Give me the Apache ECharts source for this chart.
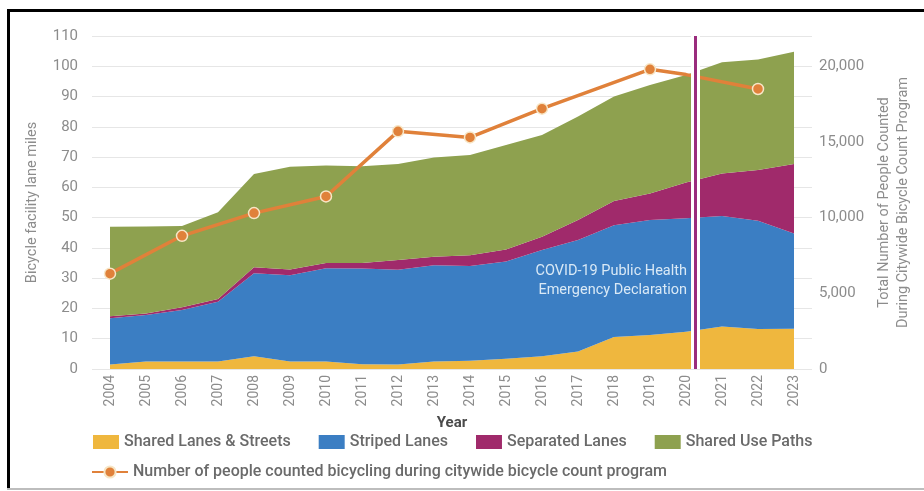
<!DOCTYPE html>
<html>
<head>
<meta charset="utf-8">
<script src="https://cdn.jsdelivr.net/npm/echarts@6/dist/echarts.min.js"></script>
<style>
  html, body { margin: 0; padding: 0; background: #fff; }
  #chart { width: 924px; height: 491px; }
</style>
</head>
<body>
<div id="chart"></div>
<script>
// Bicycle facility lane miles by type (stacked), plus citywide bicycle counts
const years = ['2004','2005','2006','2007','2008','2009','2010','2011','2012','2013',
               '2014','2015','2016','2017','2018','2019','2020','2021','2022','2023'];

const sharedLanes    = [1.5, 2.5, 2.5, 2.5, 4.2, 2.5, 2.5, 1.6, 1.5, 2.5, 2.7, 3.4, 4.2, 5.8, 10.6, 11.2, 12.3, 14.0, 13.2, 13.3];
const stripedLanes   = [15.3, 15.3, 17.0, 19.7, 27.4, 28.5, 30.8, 31.6, 31.3, 31.8, 31.3, 32.1, 35.1, 36.8, 36.9, 38.0, 37.5, 36.5, 35.8, 31.5];
const separatedLanes = [0.6, 0.5, 0.9, 0.9, 2.0, 1.9, 1.7, 1.8, 3.2, 2.8, 3.6, 4.0, 4.4, 6.6, 8.0, 8.8, 11.8, 14.1, 16.7, 22.9];
const sharedUsePaths = [29.6, 28.8, 26.8, 28.7, 30.8, 33.9, 32.2, 32.0, 31.7, 32.8, 33.1, 34.5, 33.6, 34.2, 34.5, 35.8, 35.5, 36.7, 36.5, 37.1];

// People counted; null = no count that year. 2020 is a pass-through point without a marker.
const peopleCounted = [6300, null, 8800, null, 10300, null, 11400, null, 15700, null,
                       15300, null, 17200, null, null, 19800, 19450, null, 18500, null];
const unmarkedYears = ['2020'];

const covidDeclaration = 2020.27;   // position on the year scale
const leftTicks = { min: 0, max: 110, interval: 10 };
const rightTicks = { min: 0, max: 22000, interval: 5000 };

const C_SHARED = '#efb73e', C_STRIPED = '#3b7ec3', C_SEPARATED = '#a02a6b', C_PATHS = '#8ea14f';
const C_COUNT = '#e0813a', C_COVID = '#9a2c7d';
const AXIS_TXT = '#8c8c8c';
const LEGEND_TXT = { fontSize: 16, color: '#6a6a6a', fontFamily: 'Roboto', fontWeight: 500 };

const chart = echarts.init(document.getElementById('chart'), null, { renderer: 'canvas' });

function areaSeries(name, data, color, z) {
  return {
    name, type: 'line', stack: 'miles', data,
    symbol: 'none', smooth: false, z,
    lineStyle: { width: 0, color },
    itemStyle: { color },
    areaStyle: { color, opacity: 1 },
    emphasis: { disabled: true }
  };
}

chart.setOption({
  animation: false,
  backgroundColor: '#ffffff',
  textStyle: { fontFamily: 'Roboto' },
  grid: { left: 92, right: 112, top: 36, bottom: 122, containLabel: false, outerBoundsMode: 'none' },
  legend: [
    {
      data: ['Shared Lanes & Streets', 'Striped Lanes', 'Separated Lanes', 'Shared Use Paths'],
      left: 93, top: 434, padding: 0, itemWidth: 26, itemHeight: 14, itemGap: 28,
      icon: 'rect',
      textStyle: LEGEND_TXT
    },
    {
      data: ['Number of people counted bicycling during citywide bicycle count program'],
      left: 91, top: 464, padding: 0, itemWidth: 36, itemHeight: 14,
      textStyle: LEGEND_TXT
    }
  ],
  xAxis: [
    {
      type: 'category', data: years, boundaryGap: true,
      name: 'Year', nameLocation: 'middle', nameGap: 47,
      nameTextStyle: { fontSize: 15, fontWeight: 'bold', color: '#4a4a4a' },
      axisLine: { show: false }, axisTick: { show: false },
      axisLabel: { rotate: 90, fontSize: 14, color: AXIS_TXT, margin: 6, interval: 0 }
    },
    {
      type: 'value', min: 2003.5, max: 2023.5, show: false
    }
  ],
  yAxis: [
    {
      type: 'value', min: leftTicks.min, max: leftTicks.max, interval: leftTicks.interval,
      name: 'Bicycle facility lane miles', nameLocation: 'middle', nameGap: 52,
      nameTextStyle: { fontSize: 14.5, color: AXIS_TXT },
      axisLine: { show: false }, axisTick: { show: false },
      axisLabel: { fontSize: 15, color: AXIS_TXT, margin: 14 },
      splitLine: { lineStyle: { color: '#e6e6e6', width: 1 } }
    },
    {
      type: 'value', min: rightTicks.min, max: rightTicks.max, interval: rightTicks.interval,
      position: 'right',
      name: 'Total Number of People Counted\nDuring Citywide Bicycle Count Program',
      nameLocation: 'middle', nameGap: 62, nameRotate: 90,
      nameTextStyle: { fontSize: 14.5, color: AXIS_TXT, lineHeight: 19 },
      axisLine: { show: false }, axisTick: { show: false },
      axisLabel: {
        fontSize: 15, color: AXIS_TXT, margin: 7, showMaxLabel: false,
        formatter: v => v.toLocaleString('en-US')
      },
      splitLine: { show: false }
    }
  ],
  series: [
    areaSeries('Shared Lanes & Streets', sharedLanes, C_SHARED, 2),
    areaSeries('Striped Lanes', stripedLanes, C_STRIPED, 2),
    areaSeries('Separated Lanes', separatedLanes, C_SEPARATED, 2),
    areaSeries('Shared Use Paths', sharedUsePaths, C_PATHS, 2),
    {
      name: 'Number of people counted bicycling during citywide bicycle count program',
      type: 'line', yAxisIndex: 1, z: 4,
      data: peopleCounted.map((v, i) =>
        unmarkedYears.includes(years[i]) ? { value: v, symbol: 'none' } : v),
      connectNulls: true,
      symbol: 'circle', symbolSize: 11,
      lineStyle: { color: C_COUNT, width: 3.5 },
      itemStyle: { color: C_COUNT, borderColor: '#f7e6c6', borderWidth: 1.5 },
      emphasis: { disabled: true }
    },
    {
      name: 'covid', type: 'line', xAxisIndex: 1, yAxisIndex: 0, z: 6,
      data: [], silent: true,
      markLine: {
        silent: true, symbol: ['none', 'none'], animation: false,
        label: { show: false },
        data: [
          { xAxis: covidDeclaration, lineStyle: { color: '#ffffff', width: 9, type: 'solid' } },
          { xAxis: covidDeclaration, lineStyle: { color: C_COVID, width: 3, type: 'solid' } }
        ]
      }
    }
  ],
  graphic: [
    {
      type: 'text', z: 10,
      style: {
        text: 'COVID-19 Public Health\nEmergency Declaration',
        x: 687, y: 262, align: 'right', verticalAlign: 'top',
        fill: '#d9e9f6', font: '14.5px Roboto', lineHeight: 19
      }
    },
    // frame around the figure
    { type: 'rect', shape: { x: 7, y: 9, width: 917, height: 3 }, style: { fill: '#000' } },
    { type: 'rect', shape: { x: 7, y: 9, width: 3, height: 480 }, style: { fill: '#000' } },
    { type: 'rect', shape: { x: 7, y: 488, width: 917, height: 2 }, style: { fill: '#bdbdbd' } }
  ]
});
</script>
</body>
</html>
